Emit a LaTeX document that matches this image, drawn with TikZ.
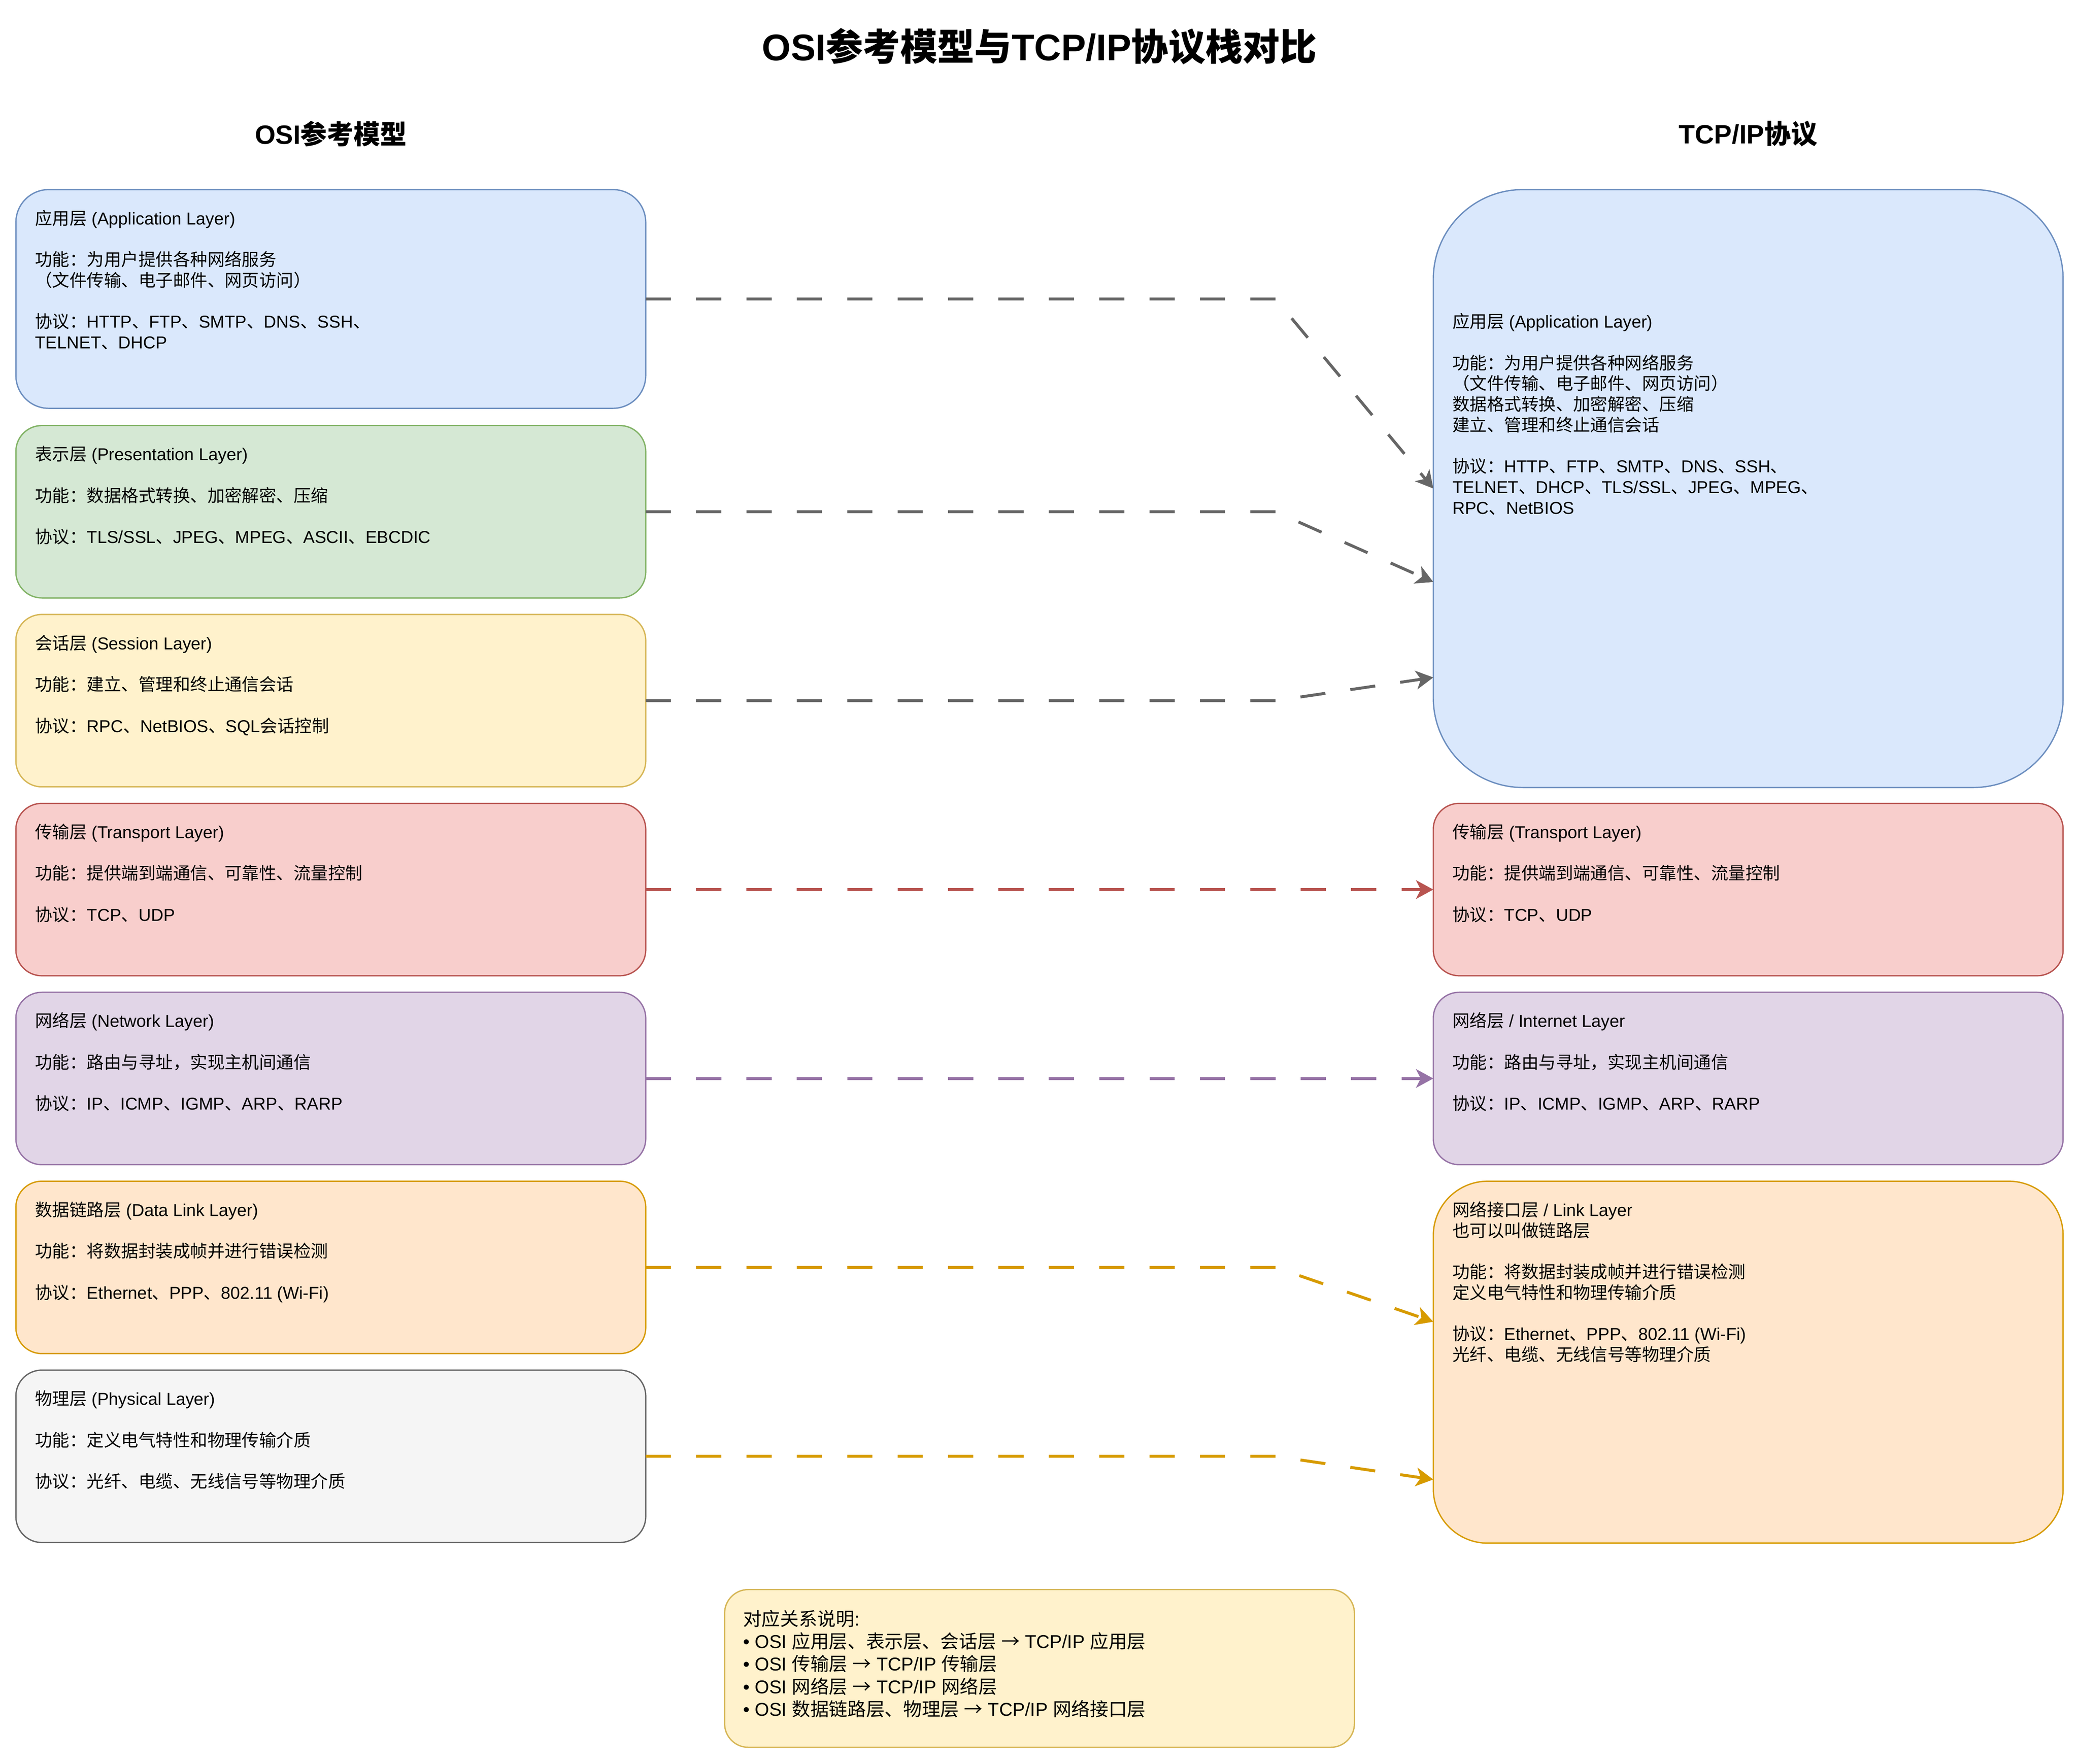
\documentclass[tikz,border=0pt]{standalone}
\usepackage{fontspec}
\setmainfont{Liberation Sans}
\newfontfamily\cjkfont{Noto Sans CJK SC}
\usetikzlibrary{arrows.meta}
% automatic switch to the CJK font for CJK characters
\XeTeXinterchartokenstate=1
\newXeTeXintercharclass\CJKclass
\newcount\cjkcnt
\def\cjkrange#1#2{\cjkcnt=#1\relax
  \loop\XeTeXcharclass\cjkcnt=\CJKclass\advance\cjkcnt by 1\relax
  \ifnum\cjkcnt<#2\repeat}
\cjkrange{"4E00}{"A000}
\cjkrange{"3000}{"3040}
\cjkrange{"FF00}{"FFF0}
\cjkrange{"2192}{"2193}
\XeTeXinterchartoks 0 \CJKclass = {\cjkfont}
\XeTeXinterchartoks 4095 \CJKclass = {\cjkfont}
\XeTeXinterchartoks \CJKclass 0 = {\rmfamily}
\XeTeXinterchartoks \CJKclass 4095 = {\rmfamily}
\newcommand\tstrut{\rule{0pt}{0.95em}}
\definecolor{bluefill}{HTML}{DAE8FC}\definecolor{bluedraw}{HTML}{6C8EBF}
\definecolor{greenfill}{HTML}{D5E8D4}\definecolor{greendraw}{HTML}{82B366}
\definecolor{yellowfill}{HTML}{FFF2CC}\definecolor{yellowdraw}{HTML}{D6B656}
\definecolor{redfill}{HTML}{F8CECC}\definecolor{reddraw}{HTML}{B85450}
\definecolor{purplefill}{HTML}{E1D5E7}\definecolor{purpledraw}{HTML}{9673A6}
\definecolor{orangefill}{HTML}{FFE6CC}\definecolor{orangedraw}{HTML}{D79B00}
\definecolor{grayfill}{HTML}{F5F5F5}\definecolor{graydraw}{HTML}{666666}
\tikzset{
  layerbox/.style={draw, line width=1pt, minimum width=475pt, inner sep=0pt, outer sep=0pt},
  shortbox/.style={layerbox, minimum height=130pt, rounded corners=19.5pt},
  boxtext/.style={anchor=north west, inner sep=0pt, outer sep=0pt, align=left,
    font=\fontsize{13}{15.6}\selectfont},
  headtext/.style={inner sep=0pt, font=\bfseries\fontsize{20}{24}\selectfont},
  maparrow/.style={line width=2.2pt, dash pattern=on 19pt off 19pt,
    -{Stealth[length=13pt,width=14pt,inset=3.5pt]}},
}
\begin{document}
\begin{tikzpicture}[x=1pt,y=-1pt]
\path[use as bounding box, fill=white] (0,0) rectangle (1568,1330.6);

% titles
\node[inner sep=0pt, font=\bfseries\fontsize{28}{33.6}\selectfont] (title) at (784,35) {OSI参考模型与TCP/IP协议栈对比};
\node[headtext] (headosi) at (249.5,101) {OSI参考模型};
\node[headtext] (headtcp) at (1318.5,101) {TCP/IP协议};

% OSI column
\node[layerbox, minimum height=165pt, rounded corners=24.75pt, fill=bluefill, draw=bluedraw] (lapp) at (249.5,225.5) {};
\node[shortbox, fill=greenfill, draw=greendraw] (lpres) at (249.5,386) {};
\node[shortbox, fill=yellowfill, draw=yellowdraw] (lsess) at (249.5,528.5) {};
\node[shortbox, fill=redfill, draw=reddraw] (ltrans) at (249.5,671) {};
\node[shortbox, fill=purplefill, draw=purpledraw] (lnet) at (249.5,813.5) {};
\node[shortbox, fill=orangefill, draw=orangedraw] (llink) at (249.5,956) {};
\node[shortbox, fill=grayfill, draw=graydraw] (lphys) at (249.5,1098.5) {};

% TCP/IP column
\node[layerbox, minimum height=451pt, rounded corners=67.6pt, fill=bluefill, draw=bluedraw] (rapp) at (1318.5,368.5) {};
\node[shortbox, fill=redfill, draw=reddraw] (rtrans) at (1318.5,671) {};
\node[shortbox, fill=purplefill, draw=purpledraw] (rnet) at (1318.5,813.5) {};
\node[layerbox, minimum height=273pt, rounded corners=41pt, fill=orangefill, draw=orangedraw] (rlink) at (1318.5,1027.5) {};

% note
\node[layerbox, minimum height=119pt, rounded corners=17.85pt, fill=yellowfill, draw=yellowdraw] (note) at (784,1258.5) {};

% texts OSI
\node[boxtext] (tlapp) at ([xshift=14.5pt,yshift=-14pt]lapp.north west) {\tstrut 应用层 (Application Layer)\\[15.6pt]
功能：为用户提供各种网络服务\\
（文件传输、电子邮件、网页访问）\\[15.6pt]
协议：HTTP、FTP、SMTP、DNS、SSH、\\
TELNET、DHCP};
\node[boxtext] (tlpres) at ([xshift=14.5pt,yshift=-14pt]lpres.north west) {\tstrut 表示层 (Presentation Layer)\\[15.6pt]
功能：数据格式转换、加密解密、压缩\\[15.6pt]
协议：TLS/SSL、JPEG、MPEG、ASCII、EBCDIC};
\node[boxtext] (tlsess) at ([xshift=14.5pt,yshift=-14pt]lsess.north west) {\tstrut 会话层 (Session Layer)\\[15.6pt]
功能：建立、管理和终止通信会话\\[15.6pt]
协议：RPC、NetBIOS、SQL会话控制};
\node[boxtext] (tltrans) at ([xshift=14.5pt,yshift=-14pt]ltrans.north west) {\tstrut 传输层 (Transport Layer)\\[15.6pt]
功能：提供端到端通信、可靠性、流量控制\\[15.6pt]
协议：TCP、UDP};
\node[boxtext] (tlnet) at ([xshift=14.5pt,yshift=-14pt]lnet.north west) {\tstrut 网络层 (Network Layer)\\[15.6pt]
功能：路由与寻址，实现主机间通信\\[15.6pt]
协议：IP、ICMP、IGMP、ARP、RARP};
\node[boxtext] (tllink) at ([xshift=14.5pt,yshift=-14pt]llink.north west) {\tstrut 数据链路层 (Data Link Layer)\\[15.6pt]
功能：将数据封装成帧并进行错误检测\\[15.6pt]
协议：Ethernet、PPP、802.11 (Wi-Fi)};
\node[boxtext] (tlphys) at ([xshift=14.5pt,yshift=-14pt]lphys.north west) {\tstrut 物理层 (Physical Layer)\\[15.6pt]
功能：定义电气特性和物理传输介质\\[15.6pt]
协议：光纤、电缆、无线信号等物理介质};

% texts TCP/IP
\node[boxtext] (trapp) at ([xshift=14.5pt,yshift=-92pt]rapp.north west) {\tstrut 应用层 (Application Layer)\\[15.6pt]
功能：为用户提供各种网络服务\\
（文件传输、电子邮件、网页访问）\\
数据格式转换、加密解密、压缩\\
建立、管理和终止通信会话\\[15.6pt]
协议：HTTP、FTP、SMTP、DNS、SSH、\\
TELNET、DHCP、TLS/SSL、JPEG、MPEG、\\
RPC、NetBIOS};
\node[boxtext] (trtrans) at ([xshift=14.5pt,yshift=-14pt]rtrans.north west) {\tstrut 传输层 (Transport Layer)\\[15.6pt]
功能：提供端到端通信、可靠性、流量控制\\[15.6pt]
协议：TCP、UDP};
\node[boxtext] (trnet) at ([xshift=14.5pt,yshift=-14pt]rnet.north west) {\tstrut 网络层 / Internet Layer\\[15.6pt]
功能：路由与寻址，实现主机间通信\\[15.6pt]
协议：IP、ICMP、IGMP、ARP、RARP};
\node[boxtext] (trlink) at ([xshift=14.5pt,yshift=-14pt]rlink.north west) {\tstrut 网络接口层 / Link Layer\\
也可以叫做链路层\\[15.6pt]
功能：将数据封装成帧并进行错误检测\\
定义电气特性和物理传输介质\\[15.6pt]
协议：Ethernet、PPP、802.11 (Wi-Fi)\\
光纤、电缆、无线信号等物理介质};

% note text
\node[boxtext, font=\fontsize{14}{17}\selectfont] (tnote) at ([xshift=14pt,yshift=-14pt]note.north west) {\tstrut 对应关系说明:\\
• OSI 应用层、表示层、会话层 → TCP/IP 应用层\\
• OSI 传输层 → TCP/IP 传输层\\
• OSI 网络层 → TCP/IP 网络层\\
• OSI 数据链路层、物理层 → TCP/IP 网络接口层};

% connectors
\coordinate (bend) at (962,0);
\draw[maparrow, draw=graydraw] (lapp.east) -- (lapp.east -| bend) -- (rapp.west);
\draw[maparrow, draw=graydraw] (lpres.east) -- (lpres.east -| bend) -- ([yshift=-70.5pt]rapp.west);
\draw[maparrow, draw=graydraw] (lsess.east) -- (lsess.east -| bend) -- ([yshift=-142.5pt]rapp.west);
\draw[maparrow, draw=reddraw] (ltrans.east) -- (rtrans.west);
\draw[maparrow, draw=purpledraw] (lnet.east) -- (rnet.west);
\draw[maparrow, draw=orangedraw] (llink.east) -- (llink.east -| bend) -- ([yshift=30.5pt]rlink.west);
\draw[maparrow, draw=orangedraw] (lphys.east) -- (lphys.east -| bend) -- ([yshift=-88.5pt]rlink.west);
\end{tikzpicture}
\end{document}
